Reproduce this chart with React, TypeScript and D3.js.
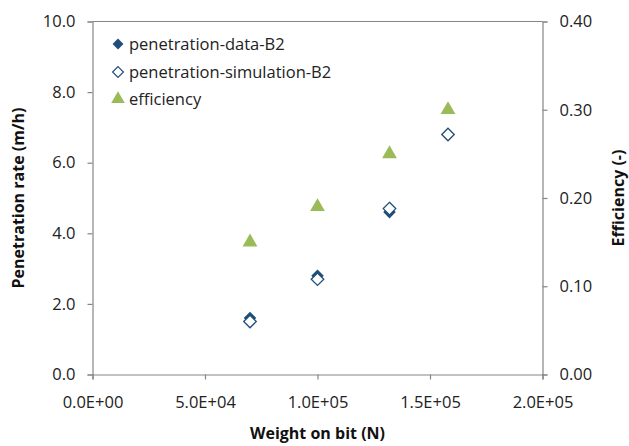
import * as d3 from 'd3';
import { useEffect, useRef } from 'react';

const weightOnBit = [70000, 100000, 132000, 158000];
const penetrationData: (number | null)[] = [1.6, 2.8, 4.6, null];
const penetrationSim = [1.5, 2.7, 4.7, 6.8];
const efficiency = [0.15, 0.19, 0.25, 0.3];

const xTicks = [0, 50000, 100000, 150000, 200000];
const yLeftTicks = [0, 2, 4, 6, 8, 10];
const yRightTicks = [0, 0.1, 0.2, 0.3, 0.4];

const legendLabels = ['penetration-data-B2', 'penetration-simulation-B2', 'efficiency'];

const FONT = "'Open Sans', sans-serif";
const BLUE = '#1f4e79';
const GREEN = '#9bbb59';
const AXIS = '#868686';

export default function App() {
  const ref = useRef<SVGSVGElement | null>(null);

  useEffect(() => {
    if (!ref.current) return;
    const svg = d3.select(ref.current);
    svg.selectAll('*').remove();

    const left = 92.5;
    const right = 542.5;
    const top = 21.5;
    const bottom = 374.5;

    const x = d3.scaleLinear().domain([0, 200000]).range([left, right]);
    const yL = d3.scaleLinear().domain([0, 10]).range([bottom, top]);
    const yR = d3.scaleLinear().domain([0, 0.4]).range([bottom, top]);

    const fmtE = (v: number) => {
      const s = v.toExponential(1).toUpperCase(); // e.g. 5.0E+4
      return s.replace(/E([+-])(\d)$/, 'E$10$2');
    };

    // top border line
    svg.append('line')
      .attr('x1', left).attr('x2', right).attr('y1', top).attr('y2', top)
      .attr('stroke', AXIS).attr('stroke-width', 1);

    const styleAxis = (g: d3.Selection<SVGGElement, unknown, null, undefined>) => {
      g.select('.domain').attr('stroke', AXIS).attr('stroke-width', 1.2);
      g.selectAll('.tick line').attr('stroke', AXIS).attr('stroke-width', 1.2);
      g.selectAll('.tick text')
        .attr('fill', '#222')
        .style('font-family', FONT)
        .style('font-size', '16.5px');
    };

    svg.append('g')
      .attr('transform', `translate(0,${bottom})`)
      .call(d3.axisBottom(x).tickValues(xTicks).tickFormat((d) => fmtE(+d)).tickSizeOuter(0).tickSize(5).tickPadding(17))
      .call(styleAxis);

    svg.append('g')
      .attr('transform', `translate(${left},0)`)
      .call(d3.axisLeft(yL).tickValues(yLeftTicks).tickFormat(d3.format('.1f')).tickSizeOuter(0).tickSize(5).tickPadding(12))
      .call(styleAxis);

    svg.append('g')
      .attr('transform', `translate(${right},0)`)
      .call(d3.axisRight(yR).tickValues(yRightTicks).tickFormat(d3.format('.2f')).tickSizeOuter(0).tickSize(5).tickPadding(12))
      .call(styleAxis);

    const diamond = d3.symbol().type(d3.symbolDiamond2).size(100);
    const triangle = d3.symbol().type(d3.symbolTriangle).size(95);

    // filled diamonds
    svg.append('g')
      .selectAll('path')
      .data(weightOnBit.map((w, i) => ({ w, v: penetrationData[i] })).filter((d) => d.v != null))
      .join('path')
      .attr('d', diamond)
      .attr('transform', (d) => `translate(${x(d.w)},${yL(d.v as number)})`)
      .attr('fill', BLUE);

    // open diamonds
    svg.append('g')
      .selectAll('path')
      .data(weightOnBit.map((w, i) => ({ w, v: penetrationSim[i] })))
      .join('path')
      .attr('d', diamond)
      .attr('transform', (d) => `translate(${x(d.w)},${yL(d.v)})`)
      .attr('fill', 'white')
      .attr('stroke', BLUE)
      .attr('stroke-width', 1.3);

    // triangles
    svg.append('g')
      .selectAll('path')
      .data(weightOnBit.map((w, i) => ({ w, v: efficiency[i] })))
      .join('path')
      .attr('d', triangle)
      .attr('transform', (d) => `translate(${x(d.w)},${yR(d.v)})`)
      .attr('fill', GREEN);

    // legend
    const leg = svg.append('g');
    const legY = [44, 72, 99];
    const legSymbols = [
      { path: d3.symbol().type(d3.symbolDiamond2).size(75)(), fill: BLUE, stroke: 'none' },
      { path: d3.symbol().type(d3.symbolDiamond2).size(75)(), fill: 'white', stroke: BLUE },
      { path: d3.symbol().type(d3.symbolTriangle).size(80)(), fill: GREEN, stroke: 'none' },
    ];
    legendLabels.forEach((label, i) => {
      leg.append('path')
        .attr('d', legSymbols[i].path)
        .attr('transform', `translate(118,${legY[i]})`)
        .attr('fill', legSymbols[i].fill)
        .attr('stroke', legSymbols[i].stroke)
        .attr('stroke-width', 1.2);
      leg.append('text')
        .attr('x', 129)
        .attr('y', legY[i])
        .attr('dy', '0.35em')
        .attr('fill', '#222')
        .style('font-family', FONT)
        .style('font-size', '16.5px')
        .text(label);
    });

    // axis titles
    const titleStyle = (t: d3.Selection<SVGTextElement, unknown, null, undefined>) =>
      t.attr('dy', '0.35em')
        .attr('text-anchor', 'middle')
        .attr('fill', '#111')
        .style('font-family', FONT)
        .style('font-size', '16px')
        .style('font-weight', 'bold');

    svg.append('text')
      .attr('x', (left + right) / 2)
      .attr('y', 433)
      .call(titleStyle)
      .text('Weight on bit (N)');

    svg.append('text')
      .attr('transform', `translate(18,${(top + bottom) / 2}) rotate(-90)`)
      .call(titleStyle)
      .text('Penetration rate (m/h)');

    svg.append('text')
      .attr('transform', `translate(618,${(top + bottom) / 2}) rotate(-90)`)
      .call(titleStyle)
      .text('Efficiency (-)');
  }, []);

  return (
    <svg
      ref={ref}
      width={629}
      height={446}
      style={{ position: 'absolute', left: 0, top: 0, background: 'white' }}
    />
  );
}
